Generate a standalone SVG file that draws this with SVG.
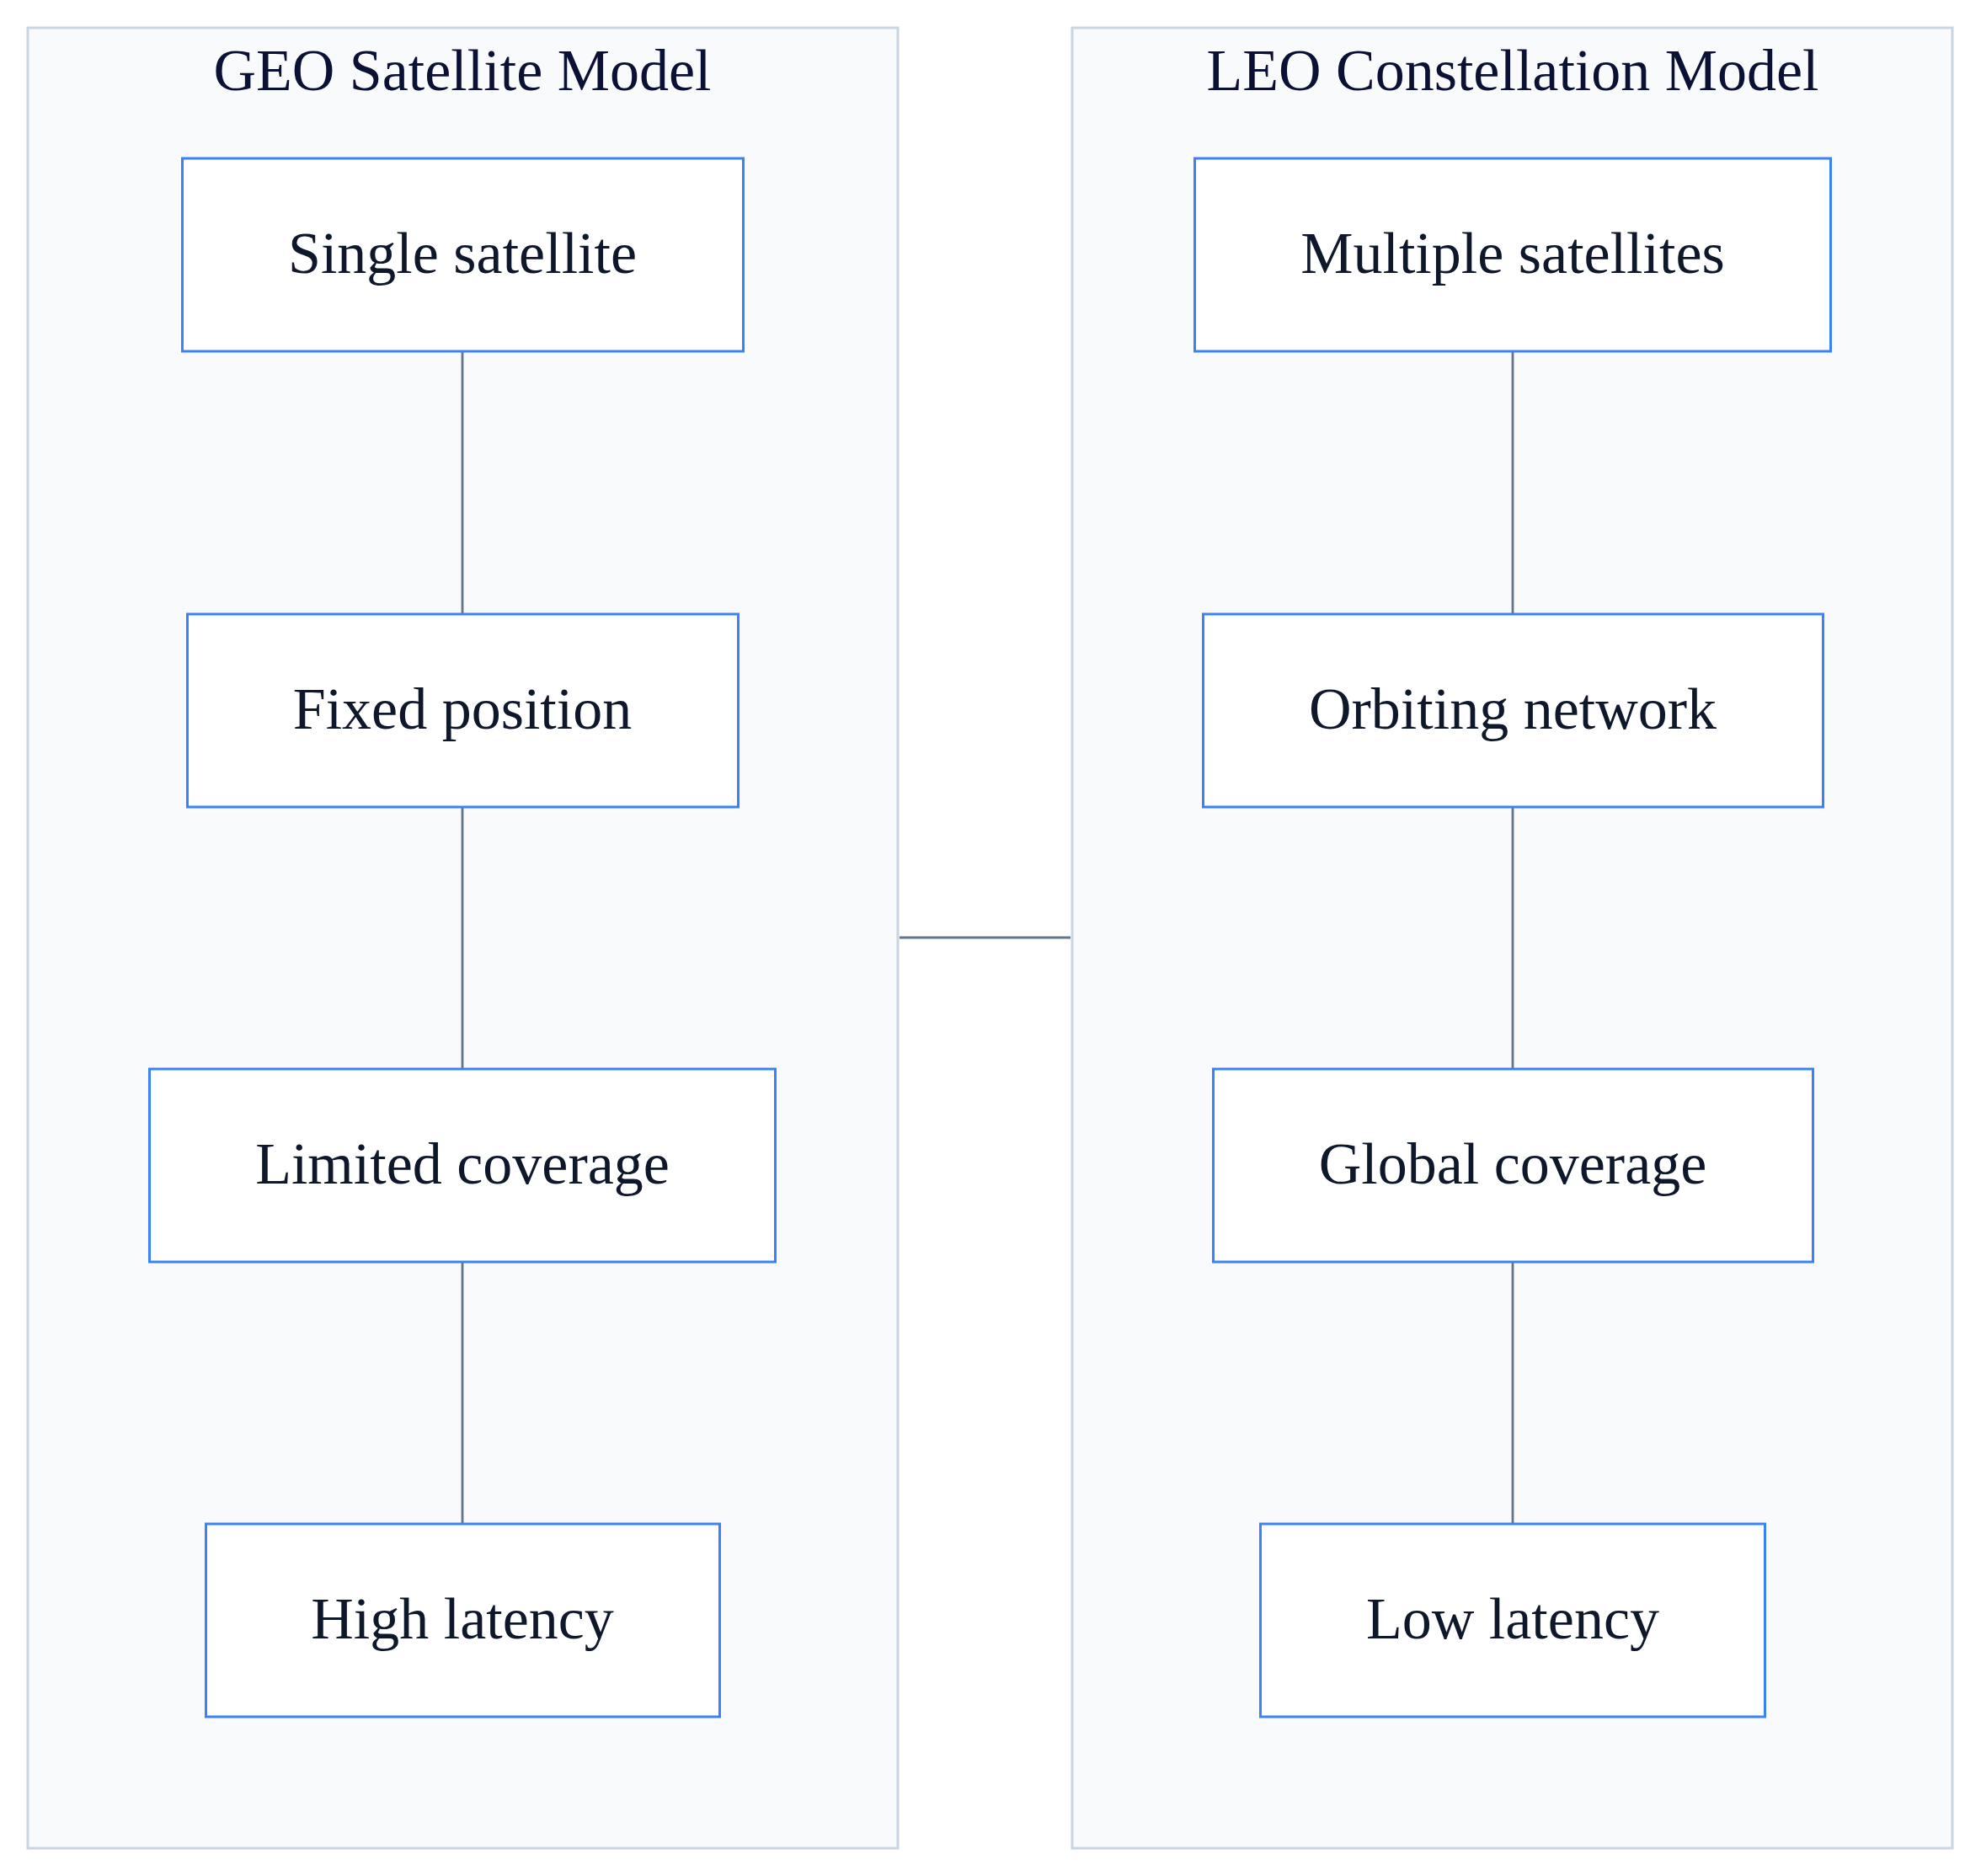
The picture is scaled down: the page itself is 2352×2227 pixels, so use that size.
<svg xmlns="http://www.w3.org/2000/svg" width="2352" height="2227" viewBox="0 0 2352 2227">
  <style>
    .cluster { fill: #f8fafc; stroke: #cbd5e1; stroke-width: 3; }
    .node rect { fill: #ffffff; stroke: #3b82f6; stroke-width: 3; }
    .label { font-family: "Liberation Serif", "Times New Roman", serif; font-size: 70px; fill: #0f172a; text-anchor: middle; }
    .title { font-family: "Liberation Serif", "Times New Roman", serif; font-size: 70px; fill: #0b1035; text-anchor: middle; }
    .edge { stroke: #64748b; stroke-width: 2.8; fill: none; }
  </style>
  <rect width="2352" height="2227" fill="#ffffff"/>
  <g id="cluster-geo">
    <rect class="cluster" x="33" y="33" width="1033" height="2161"/>
    <text class="title" x="549" y="107">GEO Satellite Model</text>
  </g>
  <g id="cluster-leo">
    <rect class="cluster" x="1273" y="33" width="1045" height="2161"/>
    <text class="title" x="1796" y="107">LEO Constellation Model</text>
  </g>
  <g id="connectors">
    <line class="edge" x1="549" y1="418" x2="549" y2="728"/>
    <line class="edge" x1="549" y1="959" x2="549" y2="1268"/>
    <line class="edge" x1="549" y1="1499" x2="549" y2="1808"/>
    <line class="edge" x1="1796" y1="418" x2="1796" y2="728"/>
    <line class="edge" x1="1796" y1="959" x2="1796" y2="1268"/>
    <line class="edge" x1="1796" y1="1499" x2="1796" y2="1808"/>
    <line class="edge" x1="1068" y1="1113" x2="1271" y2="1113"/>
  </g>
  <g id="node-single" class="node">
    <rect x="216.5" y="188" width="666" height="229"/>
    <text class="label" x="549" y="324">Single satellite</text>
  </g>
  <g id="node-fixed" class="node">
    <rect x="222.5" y="729" width="654" height="229"/>
    <text class="label" x="549" y="865">Fixed position</text>
  </g>
  <g id="node-limited" class="node">
    <rect x="177.5" y="1269" width="743" height="229"/>
    <text class="label" x="549" y="1405">Limited coverage</text>
  </g>
  <g id="node-high" class="node">
    <rect x="244.5" y="1809" width="610" height="229"/>
    <text class="label" x="549" y="1945">High latency</text>
  </g>
  <g id="node-multiple" class="node">
    <rect x="1418.5" y="188" width="755" height="229"/>
    <text class="label" x="1796" y="324">Multiple satellites</text>
  </g>
  <g id="node-orbiting" class="node">
    <rect x="1428.5" y="729" width="736" height="229"/>
    <text class="label" x="1796" y="865">Orbiting network</text>
  </g>
  <g id="node-global" class="node">
    <rect x="1440.5" y="1269" width="712" height="229"/>
    <text class="label" x="1796" y="1405">Global coverage</text>
  </g>
  <g id="node-low" class="node">
    <rect x="1496.5" y="1809" width="599" height="229"/>
    <text class="label" x="1796" y="1945">Low latency</text>
  </g>
</svg>
